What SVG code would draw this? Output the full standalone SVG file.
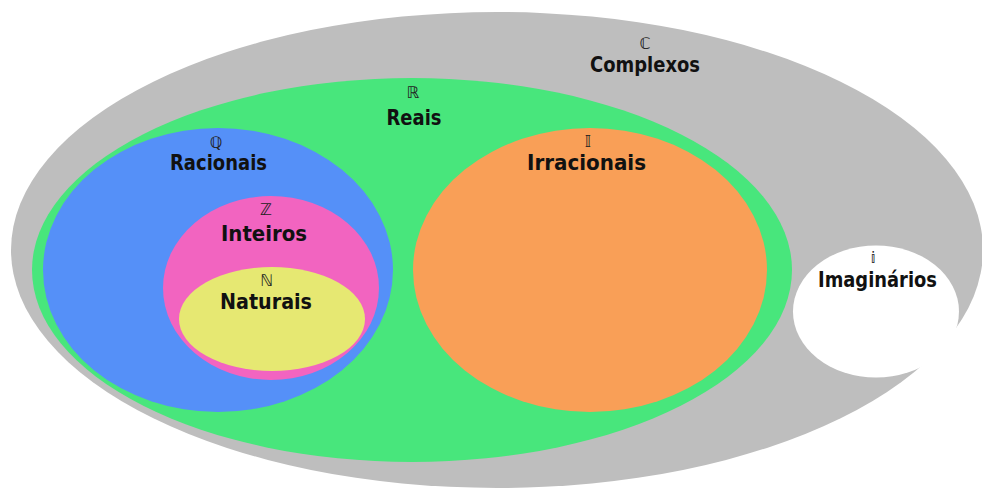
<svg xmlns="http://www.w3.org/2000/svg" width="982" height="488" viewBox="0 0 982 488">
<style>
.lbl{font-family:"DejaVu Sans","Liberation Sans",sans-serif;font-weight:bold;font-size:21px;fill:#111;text-anchor:middle}
.sym{font-family:"DejaVu Sans","Liberation Sans",sans-serif;font-size:16px;fill:#222;text-anchor:middle}
</style>
<rect width="982" height="488" fill="#ffffff"/>
<g id="complexos">
<ellipse cx="497" cy="250" rx="486" ry="238" fill="#bebebe"/>
<text class="sym" x="645" y="49">ℂ</text>
<text class="lbl" x="645" y="72" textLength="110" lengthAdjust="spacingAndGlyphs">Complexos</text>
</g>
<g id="reais">
<ellipse cx="412" cy="270" rx="380" ry="192" fill="#48e67c"/>
<text class="sym" x="413" y="98">ℝ</text>
<text class="lbl" x="414" y="125" textLength="55" lengthAdjust="spacingAndGlyphs">Reais</text>
</g>
<g id="racionais">
<ellipse cx="218" cy="270" rx="175" ry="142" fill="#5590f8"/>
<text class="sym" x="216" y="148">ℚ</text>
<text class="lbl" x="218.5" y="170" textLength="97" lengthAdjust="spacingAndGlyphs">Racionais</text>
</g>
<g id="inteiros">
<ellipse cx="271" cy="288" rx="108" ry="92" fill="#f264c0"/>
<text class="sym" x="266" y="215">ℤ</text>
<text class="lbl" x="264" y="241" textLength="86" lengthAdjust="spacingAndGlyphs">Inteiros</text>
</g>
<g id="naturais">
<ellipse cx="272" cy="319" rx="93" ry="52" fill="#e6e872"/>
<text class="sym" x="267" y="286">ℕ</text>
<text class="lbl" x="266" y="309" textLength="92" lengthAdjust="spacingAndGlyphs">Naturais</text>
</g>
<g id="irracionais">
<ellipse cx="590" cy="270" rx="177" ry="142" fill="#f99f57"/>
<text class="sym" x="588" y="147">𝕀</text>
<text class="lbl" x="586.5" y="170" textLength="119" lengthAdjust="spacingAndGlyphs">Irracionais</text>
</g>
<g id="imaginarios">
<ellipse cx="876" cy="311.5" rx="83" ry="66" fill="#ffffff"/>
<text class="sym" x="873" y="263" style="font-size:15px">𝕚</text>
<text class="lbl" x="877.5" y="287" textLength="119" lengthAdjust="spacingAndGlyphs">Imaginários</text>
</g>
<g id="connectors"></g>
</svg>
